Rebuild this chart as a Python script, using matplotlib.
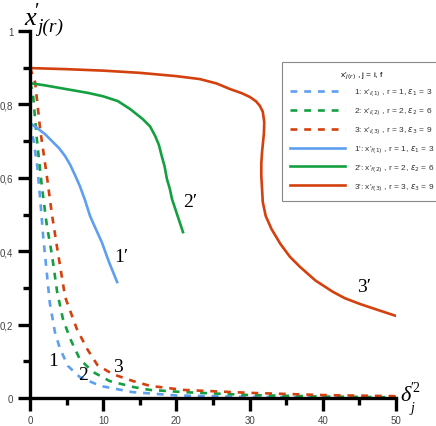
import matplotlib
matplotlib.use('Agg')
import matplotlib.pyplot as plt
from matplotlib.ticker import MultipleLocator, FuncFormatter

# dashed curves 1, 2, 3  (x'_i)
x1 = [0, 0.5, 1.0, 1.4, 1.8, 2.3, 2.7, 3.4, 4.1, 5.2, 6.8, 9.6, 14, 20, 30, 40, 50]
y1 = [0.75, 0.70, 0.63, 0.54, 0.44, 0.34, 0.26, 0.18, 0.134, 0.087, 0.057, 0.033, 0.016, 0.007, 0.003, 0.002, 0.001]
x2 = [0, 0.4, 0.96, 1.6, 2.3, 3.0, 3.7, 4.5, 5.5, 6.8, 8.6, 10.9, 14.1, 16.4, 21, 30, 40, 50]
y2 = [0.86, 0.83, 0.70, 0.58, 0.47, 0.39, 0.29, 0.215, 0.161, 0.106, 0.071, 0.046, 0.030, 0.022, 0.016, 0.008, 0.004, 0.002]
x3 = [0, 0.7, 1.4, 2.3, 3.0, 3.7, 4.8, 6.4, 7.8, 9.2, 11.3, 14.1, 16.4, 21, 30, 40, 50]
y3 = [0.90, 0.86, 0.73, 0.605, 0.50, 0.41, 0.275, 0.188, 0.134, 0.090, 0.065, 0.046, 0.033, 0.022, 0.014, 0.008, 0.005]

# solid curves 1', 2', 3'  (x'_f)
xs1 = [0, 1, 2.05, 3, 4, 4.8, 5.5, 6.2, 6.8, 7.5, 8.2, 9, 9.8, 10.8, 11.9]
ys1 = [0.749, 0.735, 0.719, 0.70, 0.68, 0.659, 0.635, 0.605, 0.578, 0.54, 0.496, 0.46, 0.425, 0.37, 0.316]
xs2 = [0, 2, 4, 6, 8, 10, 12, 13.7, 15.4, 16.4, 17.1, 17.6, 18.0, 18.4, 18.7, 19.1, 19.4, 20.1, 20.9]
ys2 = [0.858, 0.852, 0.845, 0.838, 0.831, 0.822, 0.809, 0.787, 0.760, 0.74, 0.714, 0.69, 0.659, 0.63, 0.597,
       0.57, 0.542, 0.50, 0.452]
xs3 = [0, 5, 10, 15, 20, 23.2, 25.5, 27.3, 29, 30.05, 30.9, 31.4, 31.8, 32.0, 31.95, 31.8, 31.7, 31.6, 31.6,
       31.7, 31.8, 32.2, 33, 34.2, 35.5, 36.9, 39, 41.4, 43, 45.1, 47.5, 50.1]
ys3 = [0.899, 0.896, 0.892, 0.886, 0.877, 0.869, 0.857, 0.842, 0.83, 0.820, 0.808, 0.796, 0.78, 0.752, 0.72,
       0.69, 0.670, 0.64, 0.605, 0.57, 0.534, 0.496, 0.46, 0.42, 0.385, 0.357, 0.32, 0.289, 0.272, 0.256,
       0.24, 0.223]

blue = '#5e9ff0'
green = '#14a040'
red = '#d4400e'

labels = [r"1: x'$_{i(1)}$ , r = 1, $\varepsilon_1$ = 3",
          r"2: x'$_{i(2)}$ , r = 2, $\varepsilon_2$ = 6",
          r"3: x'$_{i(3)}$ , r = 3, $\varepsilon_3$ = 9",
          r"1': x'$_{f(1)}$ , r = 1, $\varepsilon_1$ = 3",
          r"2': x'$_{f(2)}$ , r = 2, $\varepsilon_2$ = 6",
          r"3': x'$_{f(3)}$ , r = 3, $\varepsilon_3$ = 9"]

plt.rcParams['font.family'] = ['Liberation Sans', 'DejaVu Sans']
plt.rcParams['mathtext.fontset'] = 'dejavusans'

fig = plt.figure(figsize=(4.36, 4.27), dpi=100)
ax = fig.add_axes([30/436, 1-399/427, 366/436, 367/427])

lw = 1.9
dash = (0, (2.6, 2.6))
ax.plot(x1, y1, color=blue, lw=lw, linestyle=dash, label=labels[0])
ax.plot(x2, y2, color=green, lw=lw, linestyle=dash, label=labels[1])
ax.plot(x3, y3, color=red, lw=lw, linestyle=dash, label=labels[2])
ax.plot(xs1, ys1, color=blue, lw=lw, label=labels[3])
ax.plot(xs2, ys2, color=green, lw=lw, label=labels[4])
ax.plot(xs3, ys3, color=red, lw=lw, label=labels[5])

ax.set_xlim(0, 50)
ax.set_ylim(0, 1)
for s in ['top', 'right']:
    ax.spines[s].set_visible(False)
for s in ['left', 'bottom']:
    ax.spines[s].set_linewidth(2.4)

ax.xaxis.set_major_locator(MultipleLocator(10))
ax.xaxis.set_minor_locator(MultipleLocator(5))
ax.yaxis.set_major_locator(MultipleLocator(0.2))
ax.yaxis.set_minor_locator(MultipleLocator(0.1))
ax.yaxis.set_major_formatter(FuncFormatter(lambda v, p: ('%g' % round(v, 2)).replace('.', ',')))
ax.tick_params(which='major', length=9, width=2.4, labelsize=7, labelcolor='#444444', pad=3)
ax.tick_params(which='minor', length=5, width=2.4)

serif = 'Liberation Serif'

# curve labels
curve_labels = [('1', 53, 362), ('2', 83, 376), ('3', 118, 368),
                ('1\u2032', 121, 258), ('2\u2032', 190, 203), ('3\u2032', 364, 288)]
for txt, px, py in curve_labels:
    fig.text(px/436, 1-py/427, txt, fontsize=14, family=serif, ha='center', va='center')

# y axis title  x'_{j(r)}
fig.text(24/436, 1-19/427, 'x', fontsize=19, family=serif, style='italic', ha='left', va='center')
fig.text(35/436, 1-12/427, '\u2032', fontsize=15, family=serif, ha='left', va='center')
fig.text(37/436, 1-27/427, 'j(r)', fontsize=14, family=serif, style='italic', ha='left', va='center')

# x axis title  delta'^2_j
fig.text(400/436, 1-397/427, '\u03b4', fontsize=16, family=serif, style='italic', ha='left', va='center')
fig.text(410/436, 1-389/427, '\u20322', fontsize=10, family=serif, ha='left', va='center')
fig.text(410/436, 1-409/427, 'j', fontsize=10, family=serif, style='italic', ha='left', va='center')

leg = ax.legend(loc='upper left', bbox_to_anchor=(282/436, 1-63/427), bbox_transform=fig.transFigure,
                fontsize=6, title=r"x'$_{j(r)}$ , j = i, f", title_fontsize=6,
                frameon=True, fancybox=False, edgecolor='#888888', framealpha=1,
                handlelength=6.6, handletextpad=1.1, labelspacing=0.85, borderpad=0.95,
                borderaxespad=0)
leg.get_frame().set_linewidth(0.8)
leg._legend_box.sep = 4
for t in leg.get_texts():
    t.set_color('#333333')

fig.savefig('out.png', dpi=100)
